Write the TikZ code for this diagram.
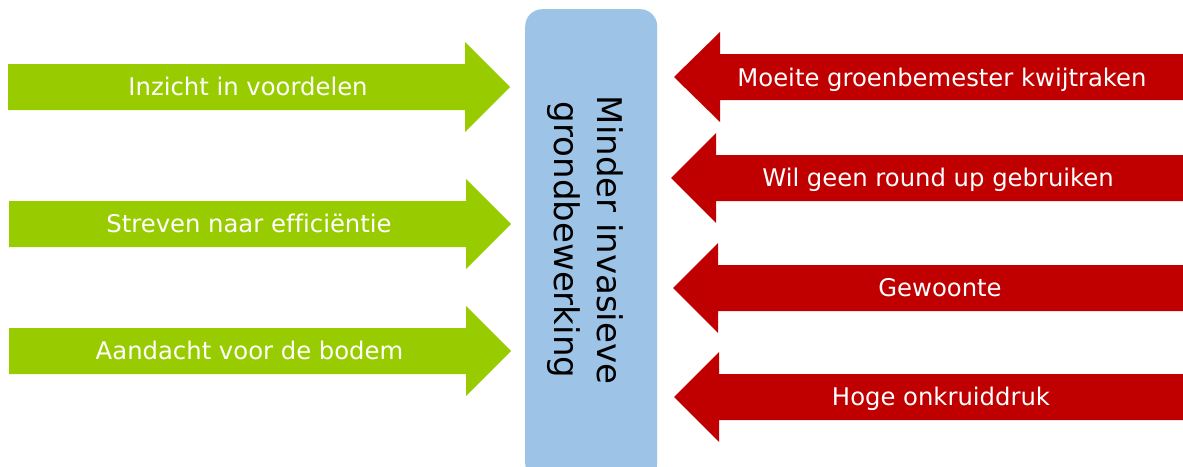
\documentclass[tikz,border=0pt]{standalone}
\usepackage{fontspec}
\setmainfont{DejaVu Sans}[Ligatures=NoCommon]
\definecolor{pro}{HTML}{99CC00}
\definecolor{contra}{HTML}{C00000}
\definecolor{core}{HTML}{9DC3E6}

% Right-pointing (driver) arrow: #1 = centre y, #2 = left end, #3 = head base, #4 = tip
\newcommand\driverarrow[4]{%
  \fill[pro] (#2,{#1-23}) -- (#3,{#1-23}) -- (#3,{#1-45}) -- (#4,#1)
    -- (#3,{#1+45}) -- (#3,{#1+23}) -- (#2,{#1+23}) -- cycle;}
% Left-pointing (barrier) arrow: #1 = centre y, #2 = tip, #3 = head base
\newcommand\barrierarrow[3]{%
  \fill[contra] (1190,{#1-23}) -- (#3,{#1-23}) -- (#3,{#1-45}) -- (#2,#1)
    -- (#3,{#1+45}) -- (#3,{#1+23}) -- (1190,{#1+23}) -- cycle;}

\begin{document}
\begin{tikzpicture}[x=1pt,y=-1pt,
  label/.style={text=white,anchor=base,inner sep=0pt,
    font=\fontsize{24.3}{28}\selectfont},
  corebox/.style={fill=core,rounded corners=17pt,inner sep=0pt,
    minimum width=132pt,minimum height=471pt,anchor=north west},
  coretext/.style={rotate=-90,align=center,inner sep=0pt,
    font=\fontsize{34}{43.5}\selectfont}]
\useasboundingbox (0,0) rectangle (1183,466);
\clip (0,0) rectangle (1183,466);

% central box
\node[corebox] (core) at (525,9) {};
\node[coretext] (coretxt) at (585.5,240) {Minder invasieve\\grondbewerking};

% drivers (left)
\driverarrow{87}{8}{465}{510}
\driverarrow{224}{9}{466}{511}
\driverarrow{351}{9}{466}{511}
\node[label] (d1) at (248,95.7) {Inzicht in voordelen};
\node[label] (d2) at (249,232.7) {Streven naar efficiëntie};
\node[label] (d3) at (249.5,359.7) {Aandacht voor de bodem};

% barriers (right)
\barrierarrow{77}{674}{720}
\barrierarrow{178}{671}{716}
\barrierarrow{288}{673}{718}
\barrierarrow{397}{674}{719}
\node[label] (b1) at (942,86.7) {Moeite groenbemester kwijtraken};
\node[label] (b2) at (938,186.7) {Wil geen round up gebruiken};
\node[label] (b3) at (940,296.7) {Gewoonte};
\node[label] (b4) at (941,405.7) {Hoge onkruiddruk};
\end{tikzpicture}
\end{document}
